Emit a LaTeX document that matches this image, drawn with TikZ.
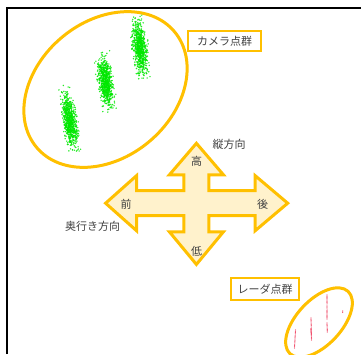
\documentclass[tikz,border=0pt]{standalone}
\usepackage{fontspec}
\setmainfont{Noto Sans CJK JP}
\definecolor{gold}{HTML}{FFC000}
\definecolor{cream}{HTML}{FFF2CC}
\definecolor{txt}{HTML}{404040}
\definecolor{ptgreen}{HTML}{00E800}
\definecolor{ptred}{HTML}{F04060}
\newcommand\cloudstreak[5]{%
  \foreach \k in {1,...,700}{%
    \pgfmathsetmacro\cst{(rnd+rnd+rnd)/3*1.3-0.15}%
    \pgfmathsetmacro\csw{rnd+rnd+rnd-1.5}%
    \fill[ptgreen,opacity=0.85] ({#1+(#3-#1)*\cst+#5*\csw},{#2+(#4-#2)*\cst}) circle[radius=0.8];
  }}
\newcommand\radarline[5]{%
  \foreach \k in {0,...,#5}{%
    \fill[ptred] ({#1+(#3-#1)*\k/#5},{#2+(#4-#2)*\k/#5}) circle[radius=0.6];
  }}
\begin{document}
\begin{tikzpicture}[x=1pt,y=-1pt,
  lbl/.style={text=txt,font=\fontsize{11}{13}\selectfont,inner sep=0pt},
  labelbox/.style={draw=gold,line width=2pt,fill=white,text=txt,
    font=\fontsize{11}{13}\selectfont,inner sep=0pt},
  ring/.style={draw=gold,line width=3pt},
  crossarrow/.style={draw=gold,fill=cream,line width=3pt,line join=miter}]
\useasboundingbox (0,0) rectangle (361,354);
\fill[white] (0,0) rectangle (361,354);
% frame
\draw[black,line width=2pt] (7,354) -- (7,7.7) -- (361,7.7);
% camera point cloud
\pgfmathsetseed{7}
\cloudstreak{66}{90}{74}{152}{6.5}
\cloudstreak{102}{54}{109}{110}{6.5}
\cloudstreak{137}{18}{143}{76}{6.5}
\draw[ring,rotate around={40:(105.5,89.5)}] (105.5,89.5) ellipse[x radius=90,y radius=68];
\node[labelbox,minimum width=72.4pt,minimum height=19.7pt] (cam) at (224.5,41) {カメラ点群};
% cross arrow
\draw[crossarrow]
  (196.4,143.3) -- (223.4,174.8) -- (208.9,174.8) -- (208.9,190.7)
  -- (255.2,190.7) -- (255.2,175.7) -- (287.7,203.2) -- (255.2,230.7)
  -- (255.2,215.7) -- (208.9,215.7) -- (208.9,231.8) -- (223.4,231.8)
  -- (196.4,264.4) -- (169.4,231.8) -- (183.9,231.8) -- (183.9,215.7)
  -- (136.5,215.7) -- (136.5,230.7) -- (105.6,203.2) -- (136.5,175.7)
  -- (136.5,190.7) -- (183.9,190.7) -- (183.9,174.8) -- (169.4,174.8) -- cycle;
\node[lbl] (high) at (196.7,161) {高};
\node[lbl] (low) at (196.7,251) {低};
\node[lbl] (front) at (126,204) {前};
\node[lbl] (back) at (262.7,204) {後};
\node[lbl] (vert) at (229,144) {縦方向};
\node[lbl] (depth) at (92.5,226.5) {奥行き方向};
% radar point cloud
\radarline{295.5}{330}{294.5}{348}{14}
\radarline{311}{318}{311.5}{340}{17}
\radarline{310.8}{329}{311.3}{335}{6}
\radarline{327}{295}{327}{319}{19}
\radarline{327}{323}{327.3}{332}{7}
\fill[ptred] (342.7,311) circle[radius=0.6] (342.7,312.4) circle[radius=0.6];
\draw[ring,rotate around={47:(319,322.5)}] (319,322.5) ellipse[x radius=42.6,y radius=22.4];
\node[labelbox,minimum width=68pt,minimum height=21.4pt] (radar) at (265,289) {レーダ点群};
\end{tikzpicture}
\end{document}
